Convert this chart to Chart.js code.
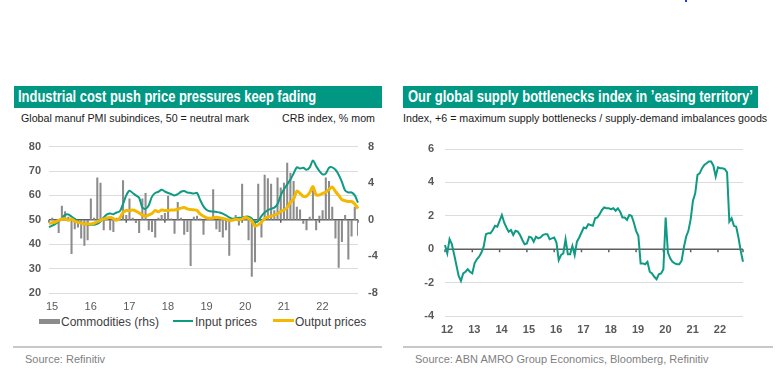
<!DOCTYPE html>
<html>
<head>
<meta charset="utf-8">
<script src="https://cdn.jsdelivr.net/npm/chart.js@4.4.1/dist/chart.umd.min.js"></script>
<style>
  body { margin:0; width:780px; height:377px; background:#fff; position:relative; overflow:hidden; font-family:"Liberation Sans", Arial, sans-serif; }
  .t { position:absolute; white-space:nowrap; transform-origin:0 50%; }
  .bar { position:absolute; background:#009883; height:22px; }
  .ttl { color:#fff; font-weight:bold; font-size:16px; line-height:22px; }
  .sub { font-size:11px; line-height:13px; color:#1a1a1a; }
  .rule { position:absolute; height:2px; background:#c8c8c8; }
  .src { font-size:11px; line-height:13px; color:#7f7f7f; }
  .leg { font-size:12px; line-height:14px; color:#404040; }
  .mk { position:absolute; }
  canvas { position:absolute; }
</style>
</head>
<body>
<div class="mk" style="left:685px;top:0;width:2px;height:2px;background:#2233ff"></div>

<div class="bar" style="left:14px;top:86px;width:368px"></div>
<div class="t ttl" style="left:18px;top:86px" data-w="298">Industrial cost push price pressures keep fading</div>
<div class="t sub" style="left:21px;top:112px" data-w="228">Global manuf PMI subindices, 50 = neutral mark</div>
<div class="t sub" style="left:282px;top:112px" data-w="93">CRB index, % mom</div>
<canvas id="left" width="375" height="185" style="left:10px;top:130px"></canvas>
<div class="mk" style="left:39px;top:319px;width:21px;height:5px;background:#8c8c8c"></div>
<div class="t leg" style="left:61px;top:315px">Commodities (rhs)</div>
<div class="mk" style="left:173px;top:320px;width:20px;height:2px;background:#0e9a83"></div>
<div class="t leg" style="left:195px;top:315px">Input prices</div>
<div class="mk" style="left:273px;top:319px;width:21px;height:3px;background:#f4b800"></div>
<div class="t leg" style="left:295px;top:315px">Output prices</div>
<div class="rule" style="left:13px;top:346px;width:369px"></div>
<div class="t src" style="left:25px;top:353px">Source: Refinitiv</div>

<div class="bar" style="left:403px;top:86px;width:355px"></div>
<div class="t ttl" style="left:408px;top:86px" data-w="345">Our global supply bottlenecks index in ’easing territory’</div>
<div class="t sub" style="left:403px;top:112px" data-w="364">Index, +6 = maximum supply bottlenecks / supply-demand imbalances goods</div>
<canvas id="right" width="360" height="208" style="left:395px;top:130px"></canvas>
<div class="rule" style="left:403px;top:346px;width:370px"></div>
<div class="t src" style="left:415px;top:353px">Source: ABN AMRO Group Economics, Bloomberg, Refinitiv</div>

<script>
// monthly categories
const pmiMonths = [];
for (let y = 2015; y <= 2023; y++) for (let m = 1; m <= 12; m++) { if (y === 2023 && m > 1) break; pmiMonths.push(y + '-' + String(m).padStart(2, '0')); }
const bnMonths = [];
for (let y = 2012; y <= 2022; y++) for (let m = 1; m <= 12; m++) bnMonths.push(y + '-' + String(m).padStart(2, '0'));

// CRB index, % mom (rhs)
const commodities = [
  -0.2,0.2,-0.3,-1.4,1.5,0.9,0.3,-3.7,-1.0,-0.8,-2.0,-2.8,
  -2.2,2.3,0.2,4.6,4.0,-1.1,0.3,-1.1,-1.3,0.2,0.1,4.3,
  0.5,2.3,0.2,-0.3,-1.4,2.3,2.9,-1.1,-1.3,-1.9,0.2,0.5,
  0.7,2.6,0.1,-1.5,1.9,0.2,-1.6,-1.3,-5.0,0.3,0.4,0.1,
  -1.6,0.1,0.2,3.3,-1.0,-1.3,-1.9,-1.1,-3.9,0.1,0.5,-0.6,
  3.9,0.2,-2.2,-6.2,-4.6,3.9,-1.9,4.9,4.5,3.9,1.0,4.6,
  3.5,4.0,6.2,5.1,4.2,1.4,1.1,-0.4,-1.1,0.3,3.2,-1.1,
  0.4,1.0,4.6,4.2,1.4,-2.0,-5.2,-2.4,0.5,-4.3,-1.8,1.4,
  -1.7
];
const inputPrices = [
  47,47.6,48.3,49.3,50.6,52,52.2,51.3,50.4,49.5,48.8,48.4,
  48.1,48,48,48.3,49.3,51,52.2,52.6,52.3,53,53.5,56.5,
  60,61.9,61,60,59,55,54.5,56,59.5,61,61.5,62.3,
  61.6,61,60.5,60,60.5,61.5,61.8,61.2,61,60.8,61,58,
  55.5,54,53.5,53.4,53.2,53,52.5,51.8,51,50.4,50.6,50.8,
  50.8,51.3,51.3,50.5,49,49.5,51.5,53,54,54.5,55,56.5,
  60,62.5,64.5,66.5,69,71.5,71,71.3,70.5,71.5,74.3,72,
  70,68.6,69,71.3,71.5,70.5,68.5,65.5,62,61.2,61.2,60,
  57
];
const outputPrices = [
  48.5,48.8,49.1,49.8,50.3,50.4,49.8,50.3,49.4,49,48.7,48.3,
  48.3,48.3,48.6,49.2,49.8,50.4,50.7,50.9,50.5,49.8,50.8,53,
  53.8,53.8,54,53.6,52.8,51.9,51.5,52,52.6,53.8,53.3,54,
  53.8,53.8,54,54,54.3,54.8,55,54.5,54.2,54.1,53.8,52.3,
  51.5,50.8,50.6,50.8,51,50.8,50.5,50.2,49.8,49.8,50.2,50,
  50.3,50.9,50.5,49.5,47.5,48,49,50.5,51.2,51.5,51.9,52.5,
  53.4,54,55,57.2,58.5,61.8,60.8,59.6,59.7,61.2,63.6,60.2,
  60.2,60.8,61.3,62.5,63.4,61.6,60,58.3,57.8,57.5,57.5,56.5,
  54.6
];
const bottlenecks = [
  0.25,-0.25,0.6,0.3,-0.3,-0.95,-1.6,-1.9,-1.45,-1.35,-1.2,-1.35,
  -1.45,-0.85,-0.6,-0.45,-0.2,0.15,0.9,0.95,0.95,1.15,1.4,1.35,
  1.7,2.05,1.6,1.3,1.05,1.15,0.85,1.1,1.05,0.85,0.55,0.3,
  0.35,0.75,0.7,0.45,0.75,0.65,0.7,0.85,0.9,0.9,0.6,0.65,
  0.7,0.4,-0.65,-0.35,-0.25,0.6,-0.3,-0.3,0.2,-0.35,0.45,0.7,
  1.0,1.3,1.25,1.5,1.45,1.4,1.85,1.9,2.1,2.35,2.5,2.45,
  2.45,2.4,2.45,2.3,2.45,2.25,1.9,1.9,1.75,2.05,2.0,1.6,
  1.1,0.8,-0.85,-0.85,-0.9,-0.75,-1.35,-1.45,-1.65,-1.8,-1.5,-1.45,
  -1.2,1.9,-0.2,-0.55,-0.75,-0.85,-0.9,-0.9,-0.7,0.1,0.75,1.1,
  1.8,2.9,3.35,4.45,4.55,4.85,5.05,5.15,5.25,5.25,5.0,4.35,
  4.9,4.85,4.85,4.8,4.6,1.65,1.85,1.4,1.35,0.7,-0.1,-0.75
];
const pmiTicks = [20, 80, 10];
const crbTicks = [-8, 8, 4];
const bnTicks = [-4, 6, 2];

const TEAL = '#0e9a83';
const YELLOW = '#f4b800';

Chart.defaults.font.family = '"Liberation Sans", Arial, sans-serif';
Chart.defaults.animation = false;

// dark base line with little year ticks
const baseLine = {
  id: 'baseLine',
  beforeDatasetsDraw(chart, args, opts) {
    const {ctx, chartArea} = chart;
    const x = chart.scales.x;
    const y = chart.scales.y.getPixelForValue(opts.value);
    ctx.save();
    ctx.strokeStyle = '#5f5f5f';
    ctx.lineWidth = 1.5;
    ctx.beginPath();
    ctx.moveTo(chartArea.left, y);
    ctx.lineTo(chartArea.right, y);
    chart.data.labels.forEach((l, i) => {
      if (l.endsWith('-01')) { const px = x.getPixelForValue(i); ctx.moveTo(px, y); ctx.lineTo(px, y + 3); }
    });
    ctx.moveTo(chartArea.right, y); ctx.lineTo(chartArea.right, y + 3);
    ctx.stroke();
    ctx.restore();
  }
};

function yearTick(labels, skipLast) {
  return function (val, i) {
    const l = labels[i];
    if (skipLast && i === labels.length - 1) return '';
    return l.endsWith('-01') ? l.slice(2, 4) : '';
  };
}

new Chart(document.getElementById('left').getContext('2d'), {
  type: 'bar',
  data: {
    labels: pmiMonths,
    datasets: [
      { type: 'line', label: 'Output prices', data: outputPrices, yAxisID: 'y', borderColor: YELLOW, borderWidth: 3, pointRadius: 0, tension: 0.3, order: 1 },
      { type: 'line', label: 'Input prices', data: inputPrices, yAxisID: 'y', borderColor: TEAL, borderWidth: 2, pointRadius: 0, tension: 0.3, order: 2 },
      { type: 'bar', label: 'Commodities (rhs)', data: commodities, yAxisID: 'y1', backgroundColor: '#8c8c8c', barThickness: 1.4, order: 3 }
    ]
  },
  options: {
    responsive: false,
    layout: { padding: { top: 15, left: 0, right: 0, bottom: 0 } },
    plugins: { legend: { display: false }, tooltip: { enabled: false }, baseLine: { value: 50 } },
    scales: {
      x: {
        offset: false,
        grid: { display: false, drawTicks: false },
        border: { display: false },
        ticks: { autoSkip: false, maxRotation: 0, padding: 7, labelOffset: 3, color: '#595959', font: { size: 11 }, callback: yearTick(pmiMonths, true) },
        afterFit(s) { s.height = 22; }
      },
      y: {
        position: 'left',
        min: pmiTicks[0], max: pmiTicks[1],
        ticks: { stepSize: pmiTicks[2], padding: 8, color: '#595959', font: { size: 11, weight: 'bold' } },
        grid: { drawTicks: false, color: c => c.tick.value === 50 ? 'rgba(0,0,0,0)' : '#dcdcdc' },
        border: { display: false },
        afterFit(s) { s.width = 39; }
      },
      y1: {
        position: 'right',
        min: crbTicks[0], max: crbTicks[1],
        ticks: { stepSize: crbTicks[2], padding: 10, color: '#595959', font: { size: 11, weight: 'bold' } },
        grid: { drawOnChartArea: false, drawTicks: false },
        border: { display: false },
        afterFit(s) { s.width = 27; }
      }
    }
  },
  plugins: [baseLine]
});

new Chart(document.getElementById('right').getContext('2d'), {
  type: 'line',
  data: {
    labels: bnMonths,
    datasets: [
      { label: 'Supply bottlenecks index', data: bottlenecks, borderColor: TEAL, borderWidth: 2, pointRadius: 0, tension: 0 }
    ]
  },
  options: {
    responsive: false,
    layout: { padding: { top: 19, left: 0, right: 12, bottom: 0 } },
    plugins: { legend: { display: false }, tooltip: { enabled: false }, baseLine: { value: 0 } },
    scales: {
      x: {
        offset: false,
        grid: { display: false, drawTicks: false },
        border: { display: false },
        ticks: { autoSkip: false, maxRotation: 0, padding: 7, labelOffset: 2, color: '#595959', font: { size: 11, weight: 'bold' }, callback: yearTick(bnMonths, false) },
        afterFit(s) { s.height = 22; }
      },
      y: {
        min: bnTicks[0], max: bnTicks[1],
        ticks: { stepSize: bnTicks[2], padding: 11, color: '#595959', font: { size: 11, weight: 'bold' } },
        grid: { drawTicks: false, color: c => c.tick.value === 0 ? 'rgba(0,0,0,0)' : '#dcdcdc' },
        border: { display: false },
        afterFit(s) { s.width = 50; }
      }
    }
  },
  plugins: [baseLine]
});

// squeeze headline texts to the reference widths
document.querySelectorAll('[data-w]').forEach(el => {
  const w = el.getBoundingClientRect().width;
  el.style.transform = 'scaleX(' + (+el.dataset.w / w).toFixed(3) + ')';
});
</script>
</body>
</html>
